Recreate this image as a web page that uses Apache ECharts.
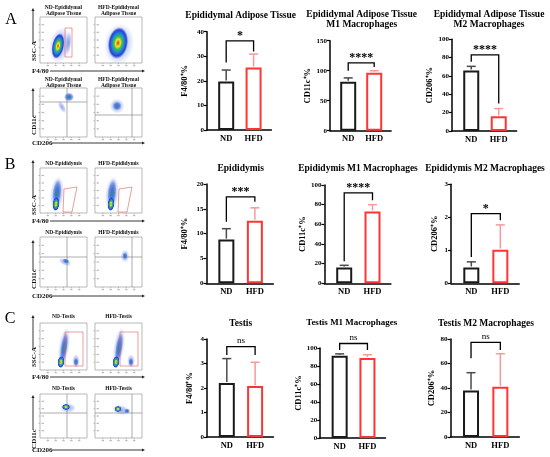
<!DOCTYPE html>
<html>
<head>
<meta charset="utf-8">
<script src="https://cdn.jsdelivr.net/npm/echarts@6/dist/echarts.min.js"></script>
<style>
  html, body { margin: 0; padding: 0; background: #fff; }
  #chart { width: 550px; height: 457px; }
</style>
</head>
<body>
<div id="chart"></div>
<script>
// ---- data ----
const groups = ['ND', 'HFD'];
const titles = [
  ['Epididymal Adipose Tissue'],
  ['Epididymal Adipose Tissue', 'M1 Macrophages'],
  ['Epididymal Adipose Tissue', 'M2 Macrophages'],
  ['Epididymis'],
  ['Epididymis M1 Macrophages'],
  ['Epididymis M2 Macrophages'],
  ['Testis'],
  ['Testis M1 Macrophages'],
  ['Testis M2 Macrophages']
];
const yNames = ['F4/80⁺%', 'CD11c⁺%', 'CD206⁺%', 'F4/80⁺%', 'CD11c⁺%', 'CD206⁺%', 'F4/80⁺%', 'CD11c⁺%', 'CD206⁺%'];
const yMax  = [40, 150, 100, 20, 100, 3, 4, 100, 80];
const yStep = [10, 50, 20, 5, 20, 1, 1, 20, 20];
const ndMean  = [19.7, 81.5, 66, 8.8, 16, 0.48, 2.2, 91.5, 38];
const ndSD    = [4.7, 6.5, 4.5, 2.2, 2.3, 0.17, 1.0, 2.0, 14.5];
const hfdMean = [25.4, 96.7, 16, 12.6, 73, 1.02, 2.08, 89, 41];
const hfdSD   = [5.5, 3.3, 8.5, 2.6, 7, 0.75, 0.97, 3.5, 27];
const sigLabels = ['*', '****', '****', '***', '****', '*', 'ns', 'ns', 'ns'];
// bracket: [bar level, ND leg end, HFD leg end] in axis units
const brackets = [
  [36.3, 27.5, 31.9], [113, 100, 106], [83, 75.6, 30],
  [17.4, 12.4, 16.4], [92, 22.5, 84.5], [2.11, 0.8, 1.91],
  [3.69, 3.35, 3.35], [105, 97.8, 97.8], [77.3, 64.2, 71]
];

// ---- layout ----
const gridBoxes = [
  [207, 31.7, 64.4, 98.3], [330, 40.7, 61.1, 90], [452, 39.3, 64.6, 91.7],
  [206.4, 184, 67, 99.3], [324.4, 185, 66.5, 98.3], [451, 184.3, 68.2, 99],
  [207, 339, 66.5, 98], [320.2, 348, 65.3, 90], [450.5, 339, 68.9, 98]
];
const nameGaps = [18, 18, 15, 17, 14, 12, 13, 14, 12];
const titlePos = [
  [240.7, 16], [361.7, 15], [489, 15],
  [240.7, 169], [358, 169], [485, 169],
  [240.7, 324], [351.7, 323], [486, 324]
];
const titleSize = [9.5, 9.5, 9.5, 9.5, 9.5, 9.5, 9.5, 9, 9.5];
const SERIF = '"Liberation Serif", "Times New Roman", serif';
const ND_COLOR = '#1a1a1a', HFD_COLOR = '#ff3434';
const ND_ERR = '#4a4a4a', HFD_ERR = '#f59a9a';

const grids = [], xAxes = [], yAxes = [], series = [];
const graphics = [];

titles.forEach((lines, i) => {
  const b = gridBoxes[i];
  grids.push({ left: b[0], top: b[1], width: b[2], height: b[3] });
  xAxes.push({
    type: 'value', gridIndex: i, min: 0.3, max: 2.65, interval: 0.05,
    axisLine: { show: true, onZero: false, lineStyle: { color: '#000', width: 1.5 } },
    axisTick: { show: false }, splitLine: { show: false },
    axisLabel: {
      margin: 4, fontSize: 8.5, fontWeight: 'bold', fontFamily: SERIF, color: '#000',
      formatter: v => Math.abs(v - 1) < 1e-6 ? groups[0] : (Math.abs(v - 2) < 1e-6 ? groups[1] : '')
    }
  });
  yAxes.push({
    type: 'value', gridIndex: i, min: 0, max: yMax[i], interval: yStep[i],
    name: yNames[i], nameLocation: 'middle', nameGap: nameGaps[i], nameRotate: 90,
    nameTextStyle: { fontSize: 8.5, fontWeight: 'bold', fontFamily: SERIF, color: '#000' },
    axisLine: { show: true, lineStyle: { color: '#000', width: 1.5 } },
    axisTick: { show: true, length: 3, lineStyle: { color: '#000', width: 1.2 } },
    splitLine: { show: false },
    axisLabel: { margin: 3, fontSize: 7, fontWeight: 'bold', fontFamily: SERIF, color: '#000' }
  });
  series.push({
    type: 'bar', xAxisIndex: i, yAxisIndex: i, barWidth: 16, silent: true,
    itemStyle: { color: '#fff', borderWidth: 2 },
    data: [
      { value: [1, ndMean[i]], itemStyle: { borderColor: ND_COLOR } },
      { value: [2, hfdMean[i]], itemStyle: { borderColor: HFD_COLOR } }
    ]
  });
  series.push({
    type: 'custom', xAxisIndex: i, yAxisIndex: i, silent: true, clip: false, z: 3,
    encode: { x: 0, y: 1 },
    data: [[1, ndMean[i], ndSD[i], 0], [2, hfdMean[i], hfdSD[i], 1]],
    renderItem: (params, api) => {
      const x = api.value(0), m = api.value(1), sd = api.value(2);
      const p0 = api.coord([x, m]), p1 = api.coord([x, m + sd]);
      const c = api.value(3) ? HFD_ERR : ND_ERR;
      return { type: 'group', children: [
        { type: 'line', shape: { x1: p0[0], y1: p0[1] - 1, x2: p1[0], y2: p1[1] }, style: { stroke: c, lineWidth: 1.5 } },
        { type: 'line', shape: { x1: p1[0] - 4.5, y1: p1[1], x2: p1[0] + 4.5, y2: p1[1] }, style: { stroke: c, lineWidth: 1.5 } }
      ] };
    }
  });
  series.push({
    type: 'custom', xAxisIndex: i, yAxisIndex: i, silent: true, clip: false, z: 4,
    encode: { x: 0, y: 1 },
    data: [[1.5].concat(brackets[i])],
    renderItem: (params, api) => {
      const yb = api.value(1), l = api.value(2), r = api.value(3);
      const a = api.coord([1, l]), b1 = api.coord([1, yb]), b2 = api.coord([2, yb]), c = api.coord([2, r]);
      const isNs = sigLabels[i] === 'ns';
      return { type: 'group', children: [
        { type: 'polyline', shape: { points: [a, b1, b2, c] }, style: { stroke: '#000', lineWidth: 1.3, fill: null } },
        { type: 'text', style: {
            text: sigLabels[i], x: (b1[0] + b2[0]) / 2, y: isNs ? b1[1] - 1.5 : b1[1] + 1,
            textAlign: 'center', textVerticalAlign: 'bottom',
            fontSize: isNs ? 9 : 12, fontWeight: isNs ? 'normal' : 'bold', fontFamily: SERIF, fill: '#000'
        } }
      ] };
    }
  });
  const tp = titlePos[i];
  lines.forEach((t, k) => {
    graphics.push({ type: 'text', x: tp[0], y: tp[1] + k * 10, style: {
      text: t, textAlign: 'center', textVerticalAlign: 'middle',
      fontSize: titleSize[i], fontWeight: 'bold', fontFamily: SERIF, fill: '#000' } });
  });
});

// ---- flow cytometry panels (decorative) ----
function txt(t, x, y, size, opts) {
  opts = opts || {};
  graphics.push({ type: 'text', x: x, y: y, rotation: opts.rot || 0, style: {
    text: t, textAlign: opts.align || 'center', textVerticalAlign: 'middle',
    fontSize: size, fontWeight: opts.weight || 'bold', fontFamily: SERIF, fill: opts.color || '#111' } });
}
function frame(x, y, w, h) {
  graphics.push({ type: 'rect', shape: { x: x, y: y, width: w, height: h }, style: { fill: 'none', stroke: '#8a8a8a', lineWidth: 0.6 } });
  for (let k = 1; k < 6; k++) {
    const ty = y + h - k * h / 6, tx = x + k * w / 6;
    graphics.push({ type: 'line', shape: { x1: x, y1: ty, x2: x - 1.5, y2: ty }, style: { stroke: '#888', lineWidth: 0.5 } });
    graphics.push({ type: 'line', shape: { x1: tx, y1: y + h, x2: tx, y2: y + h + 1.5 }, style: { stroke: '#888', lineWidth: 0.5 } });
    graphics.push({ type: 'rect', shape: { x: x + 1.5, y: ty - 0.6, width: 2.5, height: 1.2 }, style: { fill: '#bbb' } });
    graphics.push({ type: 'rect', shape: { x: tx - 1.2, y: y + h + 2, width: 2.4, height: 1.2 }, style: { fill: '#bbb' } });
  }
}
const HEAT = [
  { offset: 0, color: '#e3231b' }, { offset: 0.12, color: '#f39a1c' }, { offset: 0.24, color: '#e8e52c' },
  { offset: 0.4, color: '#3cc04a' }, { offset: 0.6, color: '#1c8ad8' }, { offset: 0.82, color: '#2b3fd3' },
  { offset: 1, color: 'rgba(50,70,215,0)' }
];
const COOL = [
  { offset: 0, color: '#2e9a44' }, { offset: 0.3, color: '#3b7ad6' }, { offset: 0.7, color: 'rgba(70,100,215,0.55)' },
  { offset: 1, color: 'rgba(90,120,225,0)' }
];
const HALO = [
  { offset: 0, color: 'rgba(60,90,220,0.55)' }, { offset: 0.6, color: 'rgba(80,110,225,0.3)' }, { offset: 1, color: 'rgba(100,130,230,0)' }
];
function blob(cx, cy, rx, ry, rot, stops) {
  graphics.push({ type: 'circle', x: cx, y: cy, rotation: rot, scaleX: rx / ry, shape: { cx: 0, cy: 0, r: ry },
    style: { fill: { type: 'radial', x: 0.5, y: 0.5, r: 0.5, colorStops: stops } } });
}
function arrowUp(x, y1, y2) {
  graphics.push({ type: 'line', shape: { x1: x, y1: y1, x2: x, y2: y2 + 2 }, style: { stroke: '#222', lineWidth: 0.9 } });
  graphics.push({ type: 'polygon', shape: { points: [[x - 1.6, y2 + 3], [x + 1.6, y2 + 3], [x, y2]] }, style: { fill: '#222' } });
}
function arrowRight(x1, x2, y) {
  graphics.push({ type: 'line', shape: { x1: x1, y1: y, x2: x2 - 2, y2: y }, style: { stroke: '#222', lineWidth: 0.9 } });
  graphics.push({ type: 'polygon', shape: { points: [[x2 - 3, y - 1.6], [x2 - 3, y + 1.6], [x2, y]] }, style: { fill: '#222' } });
}
function quad(x, y, w, h, vx, hy) {
  graphics.push({ type: 'line', shape: { x1: vx, y1: y, x2: vx, y2: y + h }, style: { stroke: '#777', lineWidth: 0.6 } });
  graphics.push({ type: 'line', shape: { x1: x, y1: hy, x2: x + w, y2: hy }, style: { stroke: '#777', lineWidth: 0.6 } });
}
function gateRect(x, y, w, h) {
  graphics.push({ type: 'rect', shape: { x: x, y: y, width: w, height: h }, style: { fill: 'none', stroke: '#e05a5a', lineWidth: 0.6 } });
}

// panel letters
txt('A', 11, 20, 16, { weight: 'normal', color: '#000' });
txt('B', 10, 165, 16, { weight: 'normal', color: '#000' });
txt('C', 10, 319, 16, { weight: 'normal', color: '#000' });

// ---- A ----
txt('ND-Epididymal', 63.5, 8, 5.5); txt('Adipose Tissue', 63.5, 13.5, 5.5);
txt('HFD-Epididymal', 118.5, 8, 5.5); txt('Adipose Tissue', 118.5, 13.5, 5.5);
frame(40, 17, 47, 46); frame(95, 17, 47, 46);
blob(60, 45, 11, 18, -0.2, HALO);
blob(58, 46, 6, 13, -0.2, HEAT);
blob(68.5, 43, 3, 12, -0.1, HALO);
gateRect(65, 28, 7, 29);
blob(119, 44, 15, 21, -0.15, HALO);
blob(118, 43, 10, 16, -0.15, HEAT);
arrowUp(33, 43, 8); txt('SSC-A', 34, 51, 7, { rot: Math.PI / 2 });
txt('F4/80', 32, 71, 7, { align: 'left' }); arrowRight(50, 145, 71);
txt('ND-Epididymal', 63.5, 80, 5.5); txt('Adipose Tissue', 63.5, 85.5, 5.5);
txt('HFD-Epididymal', 118.5, 80, 5.5); txt('Adipose Tissue', 118.5, 85.5, 5.5);
frame(40, 88, 47, 49); frame(95, 88, 47, 49);
quad(40, 88, 47, 49, 67, 102); quad(95, 88, 47, 49, 132, 115);
blob(62, 107, 3, 7, 0.5, HALO);
blob(69, 97, 5, 4.5, 0, COOL);
blob(117, 106, 7.5, 7.5, 0, HALO);
blob(117, 106, 4.5, 4.5, 0, COOL);
arrowUp(33, 117, 88); txt('CD11c', 34, 125, 7, { rot: Math.PI / 2 });
txt('CD206', 32, 143, 7, { align: 'left' }); arrowRight(52, 145, 143);

// ---- B ----
txt('ND-Epididymis', 63.5, 164, 5.5); txt('HFD-Epididymis', 118.5, 164, 5.5);
frame(40, 168, 47, 45); frame(95, 168, 47, 45);
[0, 55].forEach(dx => {
  blob(57 + dx, 194, 7, 18, -0.1, HALO);
  blob(57 + dx, 193, 4.5, 14, -0.1, COOL);
  blob(56 + dx, 204, 3.5, 7, -0.1, HEAT);
  graphics.push({ type: 'polygon', shape: { points: [[64 + dx, 189], [77 + dx, 187], [72 + dx, 212], [63 + dx, 212]] },
    style: { fill: 'none', stroke: '#e05a5a', lineWidth: 0.6 } });
});
arrowUp(33, 197, 160); txt('SSC-A', 34, 205, 7, { rot: Math.PI / 2 });
txt('F4/80', 32, 221, 7, { align: 'left' }); arrowRight(50, 145, 221);
txt('ND-Epididymis', 63.5, 233, 5.5); txt('HFD-Epididymis', 118.5, 233, 5.5);
frame(40, 237, 47, 50); frame(95, 237, 47, 50);
quad(40, 237, 47, 50, 67, 257); quad(95, 237, 47, 50, 132, 257);
blob(65, 262, 7, 3.5, -0.4, HALO);
blob(66, 261, 3.5, 2.5, -0.4, COOL);
blob(125, 256, 4.5, 6.5, 0, HALO);
blob(125, 256, 2.5, 3.5, 0, COOL);
arrowUp(33, 271, 240); txt('CD11c', 34, 279, 7, { rot: Math.PI / 2 });
txt('CD206', 32, 296, 7, { align: 'left' }); arrowRight(52, 145, 296);

// ---- C ----
txt('ND-Testis', 63.5, 317, 5.5); txt('HFD-Testis', 118.5, 317, 5.5);
frame(40, 323, 47, 47); frame(95, 323, 47, 47);
[0, 55].forEach(dx => {
  blob(64 + dx, 347, 5.5, 20, -0.15, HALO);
  blob(64 + dx, 348, 3.5, 16, -0.15, COOL);
  blob(61 + dx, 362, 3.5, 6, -0.1, HEAT);
  blob(76 + dx, 361, 4, 7, 0, HALO);
  blob(76 + dx, 362, 2.5, 4, 0, COOL);
  gateRect(65 + dx, 332, 18, 34);
});
arrowUp(33, 349, 315); txt('SSC-A', 34, 357, 7, { rot: Math.PI / 2 });
txt('F4/80', 32, 377, 7, { align: 'left' }); arrowRight(50, 145, 377);
txt('ND-Testis', 63.5, 389, 5.5); txt('HFD-Testis', 118.5, 389, 5.5);
frame(40, 394, 47, 44); frame(95, 394, 47, 44);
quad(40, 394, 47, 44, 67, 413); quad(95, 394, 47, 44, 132, 413);
blob(68, 408, 8, 5, 0, HALO);
blob(66, 407, 4, 3, 0, HEAT);
blob(121, 410, 9, 5, -0.2, HALO);
blob(118, 409, 3.5, 3, 0, HEAT);
blob(127, 411, 3, 2.5, 0, COOL);
arrowUp(33, 430, 395); txt('CD11c', 34, 439, 7, { rot: Math.PI / 2 });
txt('CD206', 32, 450, 7, { align: 'left' }); arrowRight(52, 145, 450);

const chart = echarts.init(document.getElementById('chart'), null, { renderer: 'canvas' });
chart.setOption({
  animation: false,
  backgroundColor: '#fff',
  grid: grids, xAxis: xAxes, yAxis: yAxes, series: series,
  graphic: { elements: graphics }
});
</script>
</body>
</html>
